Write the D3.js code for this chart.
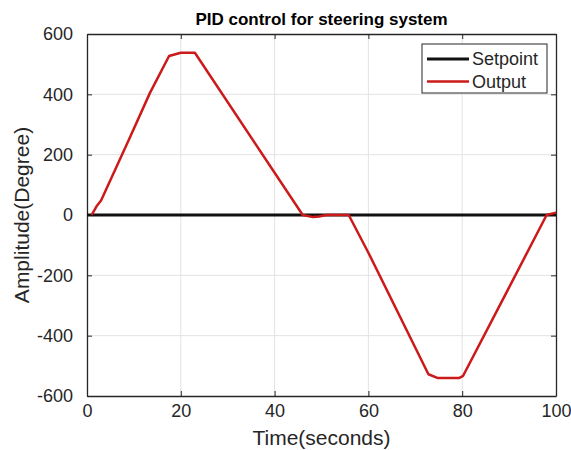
<!DOCTYPE html>
<html>
<head>
<meta charset="utf-8">
<script src="https://cdn.jsdelivr.net/npm/d3@7"></script>
<style>
  html, body { margin: 0; padding: 0; background: #fff; }
  svg { display: block; }
</style>
</head>
<body>
<div id="chart"></div>
<script>
// Data
const setpointTime  = [0, 100];
const setpointValue = [0, 0];

const outputTime  = [1, 2, 3, 4, 5, 9, 13.4, 17.5, 20, 23, 46, 48.2, 49.5, 51, 55.8, 60, 72.8, 74.7, 79.4, 80.2, 90, 98, 100];
const outputValue = [0, 28, 48, 82, 116, 252, 404, 527, 538, 538, 0, -7, -5, 0, 0, -125, -528, -540, -540, -533, -240, 0, 8];

const xTicks = [0, 20, 40, 60, 80, 100];
const yTicks = [-600, -400, -200, 0, 200, 400, 600];

const legendLabels = ['Setpoint', 'Output'];

const AXIS = '#262626';
const GRID = '#e3e3e3';
const RED  = '#cc1a1a';
const FONT = "'Liberation Sans', Arial, sans-serif";

const W = 571, H = 450;
const margin = { top: 34, right: 15, bottom: 54, left: 87 };
const width  = W - margin.left - margin.right;
const height = H - margin.top - margin.bottom;

const svg = d3.select('#chart').append('svg')
  .attr('width', W).attr('height', H);

const g = svg.append('g')
  .attr('transform', `translate(${margin.left},${margin.top})`);

const x = d3.scaleLinear().domain([0, 100]).range([0, width]);
const y = d3.scaleLinear().domain([-600, 600]).range([height, 0]);

// Gridlines
g.append('g')
  .selectAll('line')
  .data(xTicks.slice(1, -1))
  .join('line')
  .attr('x1', d => x(d)).attr('x2', d => x(d))
  .attr('y1', 0).attr('y2', height)
  .attr('stroke', GRID).attr('stroke-width', 1);

g.append('g')
  .selectAll('line')
  .data(yTicks.slice(1, -1))
  .join('line')
  .attr('x1', 0).attr('x2', width)
  .attr('y1', d => y(d)).attr('y2', d => y(d))
  .attr('stroke', GRID).attr('stroke-width', 1);

// Axes (inward ticks on all four sides, MATLAB box style)
function styleAxis(ax) {
  ax.selectAll('text')
    .style('font-family', FONT)
    .style('font-size', '18px')
    .style('fill', AXIS);
  ax.selectAll('line').attr('stroke', AXIS);
  ax.select('.domain').attr('stroke', AXIS).attr('stroke-width', 1.3);
}

const plain = d => String(d);

const xAxis = g.append('g')
  .attr('transform', `translate(0,${height})`)
  .call(d3.axisBottom(x).tickValues(xTicks).tickFormat(plain)
    .tickSizeInner(-5).tickSizeOuter(0).tickPadding(8));
styleAxis(xAxis);

const xTop = g.append('g')
  .call(d3.axisTop(x).tickValues(xTicks).tickSizeInner(-5).tickSizeOuter(0).tickFormat(''));
styleAxis(xTop);

const yAxis = g.append('g')
  .call(d3.axisLeft(y).tickValues(yTicks).tickFormat(plain)
    .tickSizeInner(-5).tickSizeOuter(0).tickPadding(14));
styleAxis(yAxis);

const yRight = g.append('g')
  .attr('transform', `translate(${width},0)`)
  .call(d3.axisRight(y).tickValues(yTicks).tickSizeInner(-5).tickSizeOuter(0).tickFormat(''));
styleAxis(yRight);

// Lines
const line = d3.line().x(d => x(d[0])).y(d => y(d[1]));

g.append('path')
  .datum(d3.zip(setpointTime, setpointValue))
  .attr('fill', 'none')
  .attr('stroke', '#111')
  .attr('stroke-width', 3)
  .attr('d', line);

g.append('path')
  .datum(d3.zip(outputTime, outputValue))
  .attr('fill', 'none')
  .attr('stroke', RED)
  .attr('stroke-width', 2.5)
  .attr('stroke-linejoin', 'round')
  .attr('d', line);

// Title
svg.append('text')
  .attr('x', margin.left + width / 2)
  .attr('y', 25)
  .attr('text-anchor', 'middle')
  .style('font-family', FONT)
  .style('font-size', '17px')
  .style('font-weight', 'bold')
  .style('fill', '#000')
  .text('PID control for steering system');

// Axis labels
svg.append('text')
  .attr('x', margin.left + width / 2)
  .attr('y', 445)
  .attr('text-anchor', 'middle')
  .style('font-family', FONT)
  .style('font-size', '21px')
  .style('fill', AXIS)
  .text('Time(seconds)');

svg.append('text')
  .attr('transform', `translate(29,${margin.top + height / 2}) rotate(-90)`)
  .attr('text-anchor', 'middle')
  .style('font-family', FONT)
  .style('font-size', '21px')
  .style('fill', AXIS)
  .text('Amplitude(Degree)');

// Legend
const legend = svg.append('g').attr('transform', 'translate(422,44)');
legend.append('rect')
  .attr('width', 125).attr('height', 49)
  .attr('fill', '#fff')
  .attr('stroke', AXIS).attr('stroke-width', 1);

const legendColors = ['#111', RED];
legendLabels.forEach((label, i) => {
  const ly = 15 + i * 22.5;
  legend.append('line')
    .attr('x1', 5).attr('x2', 47)
    .attr('y1', ly).attr('y2', ly)
    .attr('stroke', legendColors[i])
    .attr('stroke-width', i === 0 ? 3 : 2.5);
  legend.append('text')
    .attr('x', 50).attr('y', ly + 6)
    .style('font-family', FONT)
    .style('font-size', '18px')
    .style('fill', AXIS)
    .text(label);
});
</script>
</body>
</html>
